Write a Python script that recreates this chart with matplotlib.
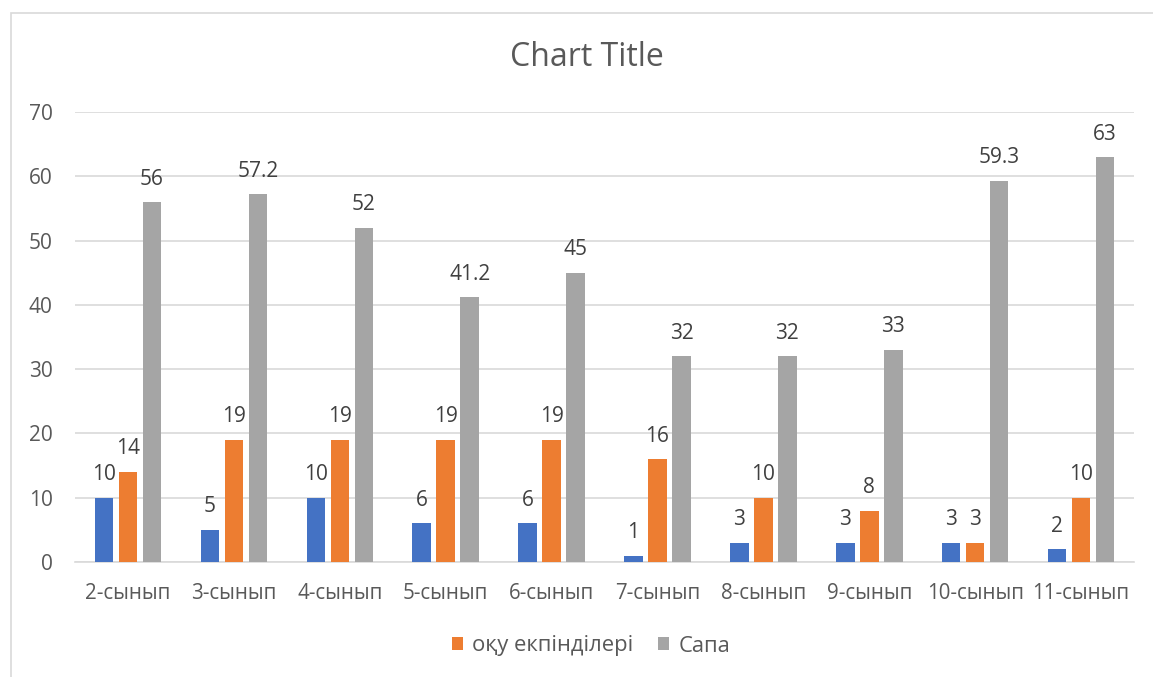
import matplotlib
matplotlib.use("Agg")
import matplotlib.pyplot as plt
from matplotlib.patches import Rectangle
import numpy as np

plt.rcParams['font.family'] = ['Open Sans', 'DejaVu Sans']

categories = ["2-сынып", "3-сынып", "4-сынып", "5-сынып", "6-сынып",
              "7-сынып", "8-сынып", "9-сынып", "10-сынып", "11-сынып"]
series1 = [10, 5, 10, 6, 6, 1, 3, 3, 3, 2]
series2 = [14, 19, 19, 19, 19, 16, 10, 8, 3, 10]
series3 = [56, 57.2, 52, 41.2, 45, 32, 32, 33, 59.3, 63]
series2_name = "оқу екпінділері"
series3_name = "Сапа"
yticks = [0, 10, 20, 30, 40, 50, 60, 70]

W, H = 1153, 677
fig = plt.figure(figsize=(W / 100, H / 100), dpi=100)
fig.patch.set_facecolor("white")
fig.patches.append(Rectangle((11 / W, -0.1), 1.2, 1 - 13 / H + 0.1,
                             transform=fig.transFigure, fill=False,
                             edgecolor="#D9D9D9", linewidth=1.2))

ax = fig.add_axes([75 / W, 1 - 562 / H, (1134 - 75) / W, (562 - 112) / H])
x = np.arange(len(categories))
step = 24 / 105.9
bw = 18.5 / 105.9
text_col = "#595959"
lab_col = "#404040"

b1 = ax.bar(x - step, series1, bw, color="#4472C4", label="_nolegend_", zorder=3)
b2 = ax.bar(x, series2, bw, color="#ED7D31", label=series2_name, zorder=3)
b3 = ax.bar(x + step, series3, bw, color="#A5A5A5", label=series3_name, zorder=3)
for b in (b1, b2, b3):
    ax.bar_label(b, labels=[f"{v:g}" for v in b.datavalues], padding=9,
                 fontsize=15, color=lab_col)

ax.set_xlim(-0.5, len(categories) - 0.5)
ax.set_ylim(0, 70)
ax.set_yticks(yticks)
ax.yaxis.grid(True, color="#D9D9D9", linewidth=1.2, zorder=0)
ax.set_axisbelow(True)
for s in ("top", "right", "left"):
    ax.spines[s].set_visible(False)
ax.spines["bottom"].set_color("#D9D9D9")
ax.spines["bottom"].set_linewidth(1.2)
ax.set_xticks(x)
ax.set_xticklabels(categories)
ax.tick_params(axis="both", length=0, colors=text_col)
ax.tick_params(axis="x", pad=15, labelsize=14.8)
ax.tick_params(axis="y", pad=16, labelsize=15)

fig.text(587 / W, 1 - 58 / H, "Chart Title", ha="center", va="center",
         fontsize=23, color=text_col)

leg = fig.legend(loc="center", bbox_to_anchor=(591 / W, 1 - 646 / H), ncol=2,
                 frameon=False, fontsize=15.8, labelcolor=text_col,
                 handlelength=0.5, handleheight=0.5, handletextpad=0.45,
                 columnspacing=1.1)

fig.savefig("out.png", dpi=100)
